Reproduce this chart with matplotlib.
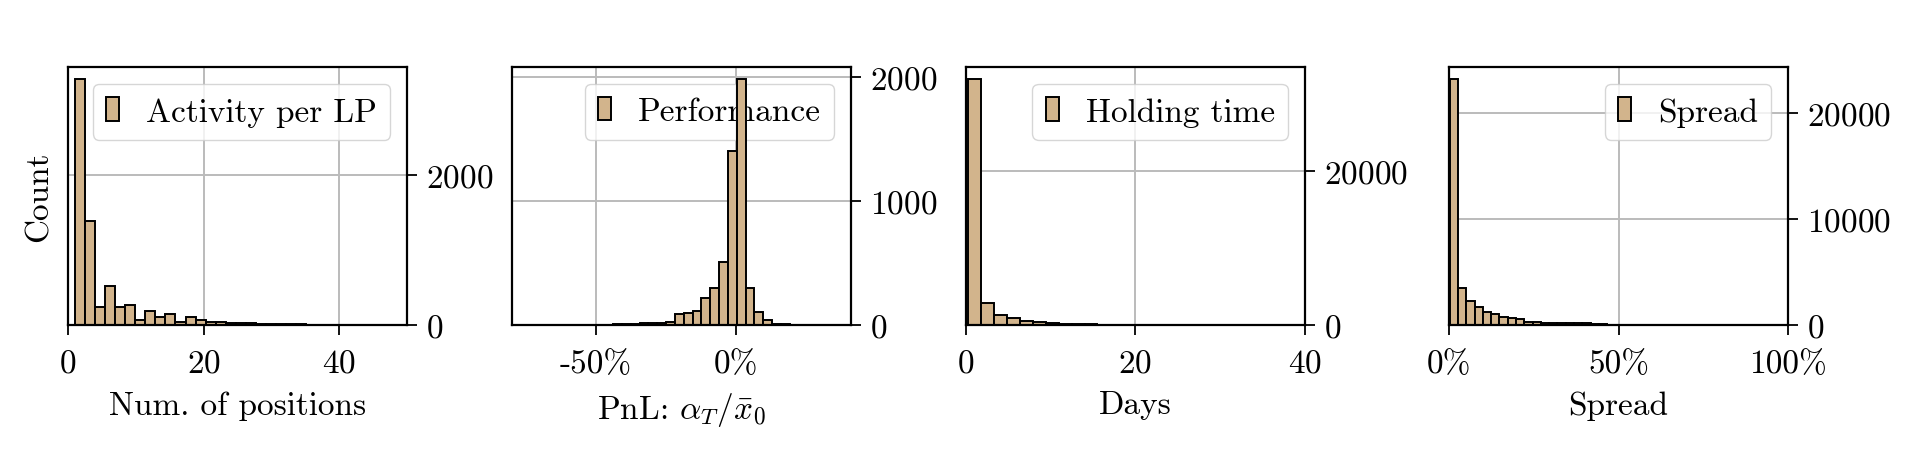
from matplotlib import pyplot as plt
from matplotlib import ticker
import numpy as np

plt.rcParams['font.family'] = 'serif'
plt.rcParams['font.serif'] = ['cmr10', 'DejaVu Serif']
plt.rcParams['mathtext.fontset'] = 'cm'
plt.rcParams['axes.formatter.use_mathtext'] = True
plt.rcParams['font.size'] = 24

# histogram counts, one bin per entry
activity_start = 1.0
activity_width = 1.485
activity_counts = [3270, 1390, 245, 525, 245, 265, 70, 190, 100, 140, 45, 105,
                   60, 45, 35, 30, 25, 20, 18, 15, 12, 10, 8, 6, 5, 4, 3, 3,
                   2, 2, 1, 1, 1]

perf_start = -0.7855
perf_width = 0.0315
perf_counts = [3, 1, 1, 1, 1, 2, 2, 2, 3, 3, 4, 5, 8, 12, 15, 15, 18, 25,
               85, 94, 115, 220, 295, 504, 1402, 1979, 295, 107, 40, 12, 5,
               3, 2, 1, 1, 1, 0, 1]

hold_start = 0.25
hold_width = 1.53
hold_counts = [31960, 2830, 1360, 900, 500, 330, 220, 170, 130, 90, 50, 25,
               12, 6]

spread_start = 0.002
spread_width = 0.02445
spread_counts = [23150, 3460, 2270, 1730, 1260, 1010, 760, 650, 600, 300, 240,
                 210, 190, 170, 160, 150, 150, 120, 80]

labels = ['Activity per LP', 'Performance', 'Holding time', 'Spread']
xlabels = ['Num. of positions', r'PnL: $\alpha_T/\bar{x}_0$', 'Days', 'Spread']
xlims = [(0, 50), (-0.80, 0.41), (0, 40), (0, 1)]
xsteps = [20, 0.5, 20, 0.5]
ysteps = [2000, 1000, 20000, 10000]
percent = [False, True, False, True]

data = [(activity_start, activity_width, activity_counts),
        (perf_start, perf_width, perf_counts),
        (hold_start, hold_width, hold_counts),
        (spread_start, spread_width, spread_counts)]

lefts = [68, 512, 965.7, 1449]
fig = plt.figure(figsize=(19.2, 4.52), dpi=100)

for i in range(4):
  start, width, counts = data[i]
  counts = np.array(counts)
  edges = start + width * np.arange(len(counts))
  ax = fig.add_axes([lefts[i] / 1920, 126 / 452, 339 / 1920, 258 / 452])
  ax.set_axisbelow(True)
  ax.bar(edges, counts, width=width, align='edge', color='tan',
         edgecolor='black', linewidth=1.4, label=labels[i], zorder=1)
  ax.set_xlim(*xlims[i])
  ax.xaxis.set_major_locator(ticker.MultipleLocator(xsteps[i]))
  ax.yaxis.set_major_locator(ticker.MultipleLocator(ysteps[i]))
  if percent[i]:
    ax.xaxis.set_major_formatter(
        ticker.FuncFormatter(lambda v, p: '%d%%' % round(v * 100)))
  ax.yaxis.tick_right()
  ax.grid(True, color='#bbbbbb', linewidth=1.4)
  ax.tick_params(length=7, width=1.3, pad=7)
  ax.tick_params(axis='x', pad=10)
  for s in ax.spines.values():
    s.set_linewidth(1.6)
  ax.set_xlabel(xlabels[i], labelpad=9)
  if i == 0:
    ax.set_ylabel('Count', labelpad=10)
  leg = ax.legend(loc='upper right', handlelength=0.4, handleheight=0.7)
  leg.set_zorder(0.8)

fig.savefig('out.png', dpi=100)
